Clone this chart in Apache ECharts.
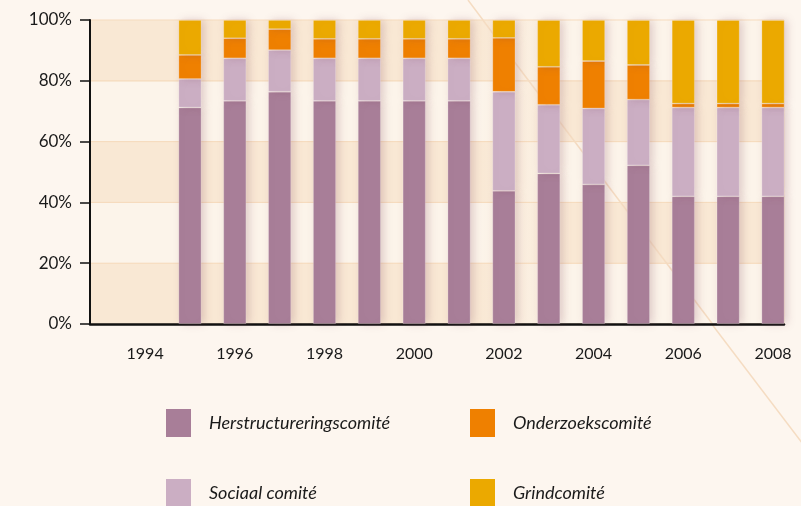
<!DOCTYPE html>
<html>
<head>
<meta charset="utf-8">
<script src="https://cdn.jsdelivr.net/npm/echarts@6/dist/echarts.min.js"></script>
<style>
html,body{margin:0;padding:0;background:#fdf6ef;}
#chart{width:801px;height:506px;}
</style>
</head>
<body>
<div id="chart"></div>
<script>
var years = ['1994','1995','1996','1997','1998','1999','2000','2001','2002','2003','2004','2005','2006','2007','2008'];
var yTickLabels = [0,20,40,60,80,100];
var seriesNames = ['Herstructureringscomité','Sociaal comité','Onderzoekscomité','Grindcomité'];
var herstructurering = ['-',71.2,73.4,76.4,73.4,73.4,73.4,73.4,43.8,49.5,45.9,52.2,42.0,42.0,42.0];
var sociaal          = ['-', 9.4,14.0,13.7,14.0,14.0,14.0,14.0,32.6,22.6,25.0,21.6,29.2,29.2,29.2];
var onderzoek        = ['-', 7.9, 6.6, 6.9, 6.4, 6.4, 6.4, 6.4,17.7,12.5,15.6,11.4, 1.3, 1.3, 1.3];
var grind            = ['-',11.5, 6.0, 3.0, 6.2, 6.2, 6.2, 6.2, 5.9,15.4,13.5,14.8,27.5,27.5,27.5];
var colors = ['#a87e98','#cbaec3','#ef8000','#eba900'];

var values = [herstructurering, sociaal, onderzoek, grind];

var DARK = '#f9e8d4', LIGHT = '#fcf4ea', DIAG = '#f5dcc2';
function grad(a,b){
  return new echarts.graphic.LinearGradient(0,0,1,0,[
    {offset:0,color:a},{offset:0.56,color:a},{offset:0.69,color:b},{offset:1,color:b}
  ]);
}
var bands = [];
for (var i = 0; i < yTickLabels.length - 1; i++) {
  var darkFirst = (i % 2 === 0);
  bands.push([
    {yAxis: yTickLabels[i], itemStyle:{color: darkFirst ? grad(DARK,LIGHT) : grad(LIGHT,DARK), borderColor:'#f6dbbd', borderWidth:1}},
    {yAxis: yTickLabels[i+1]}
  ]);
}

var series = [{
  name: 'bands',
  type: 'line',
  xAxisIndex: 0, yAxisIndex: 0,
  data: [],
  silent: true,
  markArea: {silent: true, z: 1, data: bands, label: {show: false}},
  markLine: {
    silent: true, symbol: ['none','none'],
    label: {show: false},
    lineStyle: {color: DIAG, width: 1.5, type: 'solid'},
    data: [[{coord: [0.566, 100]}, {coord: [0.897, 0]}]]
  }
}];
seriesNames.forEach(function(name, k){
  series.push({
    name: name,
    type: 'bar',
    stack: 'total',
    xAxisIndex: 1, yAxisIndex: 1,
    barWidth: 23,
    zlevel: 1,
    data: values[k],
    itemStyle: {
      color: colors[k],
      borderColor: 'rgba(255,255,255,0.25)',
      borderWidth: 0.8,
      shadowBlur: 8,
      shadowOffsetX: 3,
      shadowColor: 'rgba(140,80,100,0.25)'
    },
    emphasis: {disabled: true}
  });
});

var chart = echarts.init(document.getElementById('chart'), null, {renderer:'canvas'});
var legendBase = function(name, left, top){
  return {
    data: [name], left: left, top: top, padding: 0,
    itemWidth: 25, itemHeight: 28, icon: 'rect',
    selectedMode: false,
    itemStyle: {shadowBlur: 0, borderWidth: 0},
    textStyle: {fontFamily: 'Lato, sans-serif', fontStyle: 'italic', fontSize: 18, color: '#1a1a1a', padding: [0,0,0,13]}
  };
};
chart.setOption({
  backgroundColor: '#fdf6ef',
  animation: false,
  grid: [
    {left: 90, right: 17, top: 20, bottom: 182, containLabel: false},
    {left: 122.7, right: 5.6, top: 20, bottom: 182, containLabel: false}
  ],
  xAxis: [{
    type: 'value', gridIndex: 0, min: 0, max: 1,
    zlevel: 1,
    splitLine: {show: false},
    axisLine: {show: true, lineStyle: {color: '#111', width: 2.5}},
    axisTick: {show: false},
    axisLabel: {show: false}
  }, {
    type: 'category', gridIndex: 1, data: years, boundaryGap: true,
    axisLine: {show: false},
    axisTick: {show: false},
    splitLine: {show: false},
    axisLabel: {
      interval: 1,
      margin: 22,
      fontFamily: 'Lato, sans-serif',
      fontSize: 16,
      color: '#1a1a1a'
    }
  }],
  yAxis: [{
    type: 'value', gridIndex: 0,
    min: 0, max: 100, interval: 20,
    zlevel: 1,
    splitLine: {show: false},
    axisLine: {show: true, lineStyle: {color: '#111', width: 2}},
    axisTick: {show: true, length: 10, lineStyle: {color: '#111', width: 1.5}},
    axisLabel: {
      margin: 18,
      fontFamily: 'Lato, sans-serif',
      fontSize: 17,
      color: '#1a1a1a',
      formatter: '{value}%'
    }
  }, {
    type: 'value', gridIndex: 1,
    min: 0, max: 100, interval: 20,
    show: false,
    splitLine: {show: false}
  }],
  legend: [
    legendBase(seriesNames[0], 166, 409),
    legendBase(seriesNames[2], 470, 409),
    legendBase(seriesNames[1], 166, 479),
    legendBase(seriesNames[3], 470, 479)
  ],
  graphic: [{
    type: 'line', silent: true,
    shape: {x1: 468, y1: 0, x2: 483, y2: 20},
    style: {stroke: DIAG, lineWidth: 1.5}
  }, {
    type: 'line', silent: true,
    shape: {x1: 712.5, y1: 325, x2: 850, y2: 506},
    style: {stroke: DIAG, lineWidth: 1.5}
  }],
  series: series
});
</script>
</body>
</html>
